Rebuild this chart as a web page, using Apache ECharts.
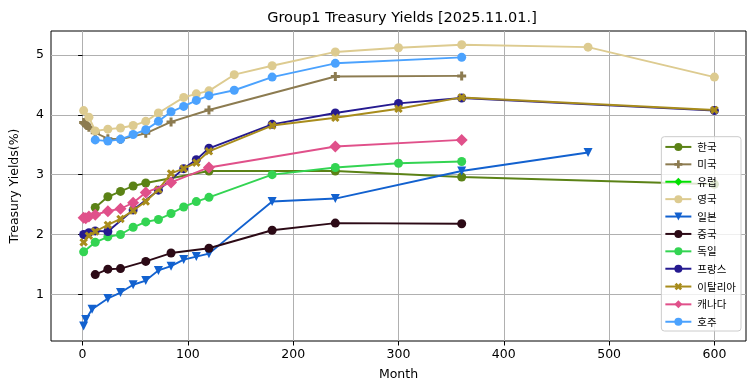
<!DOCTYPE html>
<html>
<head>
<meta charset="utf-8">
<script src="https://cdn.jsdelivr.net/npm/echarts@6/dist/echarts.min.js"></script>
<style>
html,body{margin:0;padding:0;background:#fff;}
#chart{width:755px;height:391px;}
</style>
</head>
<body>
<div id="chart"></div>
<script>
// ---- data (months -> yield %) ----
const xTicks = [0, 100, 200, 300, 400, 500, 600];
const yTicks = [1, 2, 3, 4, 5];

const koreaM = [12, 24, 36, 48, 60, 120, 240, 360, 600];
const koreaV = [2.45, 2.63, 2.72, 2.81, 2.86, 3.06, 3.06, 2.96, 2.84];

const usM = [1, 2, 3, 4, 6, 12, 24, 36, 60, 84, 120, 240, 360];
const usV = [3.87, 3.86, 3.84, 3.82, 3.79, 3.70, 3.60, 3.59, 3.69, 3.88, 4.08, 4.64, 4.65];

const europeM = [];
const europeV = [];

const ukM = [1, 6, 12, 24, 36, 48, 60, 72, 96, 108, 120, 144, 180, 240, 300, 360, 480, 600];
const ukV = [4.07, 3.96, 3.73, 3.76, 3.78, 3.82, 3.89, 4.03, 4.29, 4.35, 4.40, 4.67, 4.82, 5.05, 5.12, 5.17, 5.13, 4.63];

const japanM = [1, 3, 9, 24, 36, 48, 60, 72, 84, 96, 108, 120, 180, 240, 360, 480];
const japanV = [0.47, 0.58, 0.75, 0.93, 1.03, 1.16, 1.23, 1.40, 1.47, 1.58, 1.63, 1.68, 2.55, 2.60, 3.06, 3.37];

const chinaM = [12, 24, 36, 60, 84, 120, 180, 240, 360];
const chinaV = [1.33, 1.42, 1.43, 1.55, 1.69, 1.77, 2.07, 2.19, 2.18];

const germanyM = [1, 12, 24, 36, 48, 60, 72, 84, 96, 108, 120, 180, 240, 300, 360];
const germanyV = [1.71, 1.87, 1.96, 2.00, 2.12, 2.21, 2.25, 2.35, 2.46, 2.55, 2.62, 3.00, 3.12, 3.19, 3.22];

const franceM = [1, 6, 12, 24, 48, 72, 96, 108, 120, 180, 240, 300, 360, 600];
const franceV = [2.00, 2.03, 2.06, 2.05, 2.41, 2.74, 3.10, 3.25, 3.44, 3.84, 4.03, 4.19, 4.28, 4.07];

const italyM = [1, 6, 12, 24, 36, 48, 60, 72, 84, 96, 108, 120, 180, 240, 300, 360, 600];
const italyV = [1.87, 1.98, 2.05, 2.16, 2.26, 2.40, 2.55, 2.75, 3.02, 3.10, 3.20, 3.39, 3.82, 3.95, 4.10, 4.29, 4.08];

const canadaM = [1, 3, 6, 12, 24, 36, 48, 60, 84, 120, 240, 360];
const canadaV = [2.28, 2.27, 2.30, 2.33, 2.39, 2.43, 2.53, 2.70, 2.87, 3.12, 3.47, 3.58];

const australiaM = [12, 24, 36, 48, 60, 72, 84, 96, 108, 120, 144, 180, 240, 360];
const australiaV = [3.58, 3.56, 3.59, 3.67, 3.75, 3.89, 4.05, 4.14, 4.24, 4.32, 4.41, 4.63, 4.86, 4.96];

const names = ['한국', '미국', '유럽', '영국', '일본', '중국', '독일', '프랑스', '이탈리아', '캐나다', '호주'];
// ---- styling ----
const plusPath = 'path://M-1,-3H1V-1H3V1H1V3H-1V1H-3V-1H-1Z';
const styles = [
  {c: '#5b8216', s: 'circle'},
  {c: '#8c7b50', s: plusPath},
  {c: '#00e000', s: 'diamond'},
  {c: '#ddcb90', s: 'circle'},
  {c: '#1261cf', s: 'triangle', r: 180},
  {c: '#2c0a16', s: 'circle'},
  {c: '#33d452', s: 'circle'},
  {c: '#251a90', s: 'circle'},
  {c: '#a88c1c', s: plusPath, r: 45},
  {c: '#e0508a', s: 'diamond', size: 12},
  {c: '#4ba2fe', s: 'circle'}
];
const dataSets = [
  [koreaM, koreaV], [usM, usV], [europeM, europeV], [ukM, ukV], [japanM, japanV],
  [chinaM, chinaV], [germanyM, germanyV], [franceM, franceV], [italyM, italyV],
  [canadaM, canadaV], [australiaM, australiaV]
];

const series = names.map((n, i) => ({
  name: n,
  type: 'line',
  data: dataSets[i][0].map((m, k) => [m, dataSets[i][1][k]]),
  symbol: styles[i].s,
  symbolRotate: styles[i].r || 0,
  symbolSize: styles[i].size || 9,
  showSymbol: true,
  animation: false,
  color: styles[i].c,
  lineStyle: {width: 1.9, color: styles[i].c},
  itemStyle: {color: styles[i].c, borderWidth: 0, opacity: 1},
  emphasis: {disabled: true},
  z: 3 + i
}));

const chart = echarts.init(document.getElementById('chart'), null, {renderer: 'canvas'});
chart.setOption({
  animation: false,
  backgroundColor: '#ffffff',
  title: {
    text: 'Group1 Treasury Yields [2025.11.01.]',
    left: 397, top: 6, textAlign: 'center',
    textStyle: {fontFamily: 'DejaVu Sans', fontSize: 14.5, fontWeight: 'normal', color: '#000'}
  },
  grid: {left: 48, right: 9, top: 31, bottom: 50, show: true, borderColor: '#000', borderWidth: 1, backgroundColor: 'transparent'},
  legend: {
    orient: 'vertical', right: 14, bottom: 60,
    itemWidth: 26, itemHeight: 10, itemGap: 6.9,
    padding: [5, 5, 4, 3],
    backgroundColor: 'rgba(255,255,255,0.8)', borderColor: '#cccccc', borderWidth: 1, borderRadius: 3,
    textStyle: {fontFamily: 'Noto Sans CJK KR', fontSize: 10.5, color: '#000', padding: [0, 0, 0, 1]},
    data: names
  },
  xAxis: {
    type: 'value', min: -30, max: 630,
    name: 'Month', nameLocation: 'middle', nameGap: 27,
    nameTextStyle: {fontFamily: 'DejaVu Sans', fontSize: 12.5, color: '#000'},
    axisLine: {show: false},
    axisTick: {show: true, length: 4.5, lineStyle: {color: '#000', width: 1}, customValues: xTicks},
    axisLabel: {fontFamily: 'DejaVu Sans', fontSize: 12.5, color: '#000', margin: 7, customValues: xTicks},
    splitLine: {show: true, lineStyle: {color: '#b0b0b0', width: 1}}
  },
  yAxis: {
    type: 'value', min: 0.22, max: 5.4,
    name: 'Treasury Yields(%)', nameLocation: 'middle', nameGap: 30,
    nameTextStyle: {fontFamily: 'DejaVu Sans', fontSize: 12.5, color: '#000'},
    axisLine: {show: false},
    axisTick: {show: true, length: 4.5, lineStyle: {color: '#000', width: 1}, customValues: yTicks},
    axisLabel: {fontFamily: 'DejaVu Sans', fontSize: 12.5, color: '#000', margin: 7, customValues: yTicks},
    splitLine: {show: true, lineStyle: {color: '#b0b0b0', width: 1}}
  },
  series: series
});
</script>
</body>
</html>
